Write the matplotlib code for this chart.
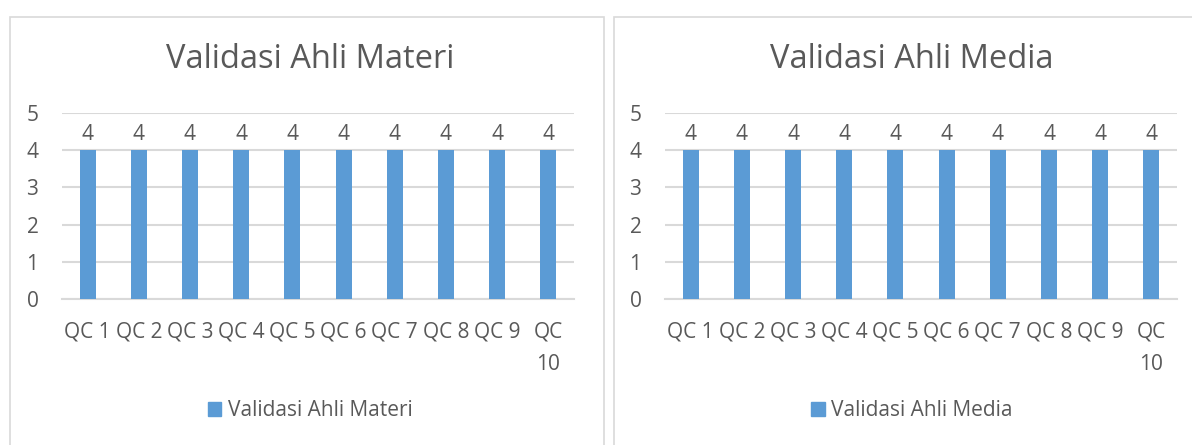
import matplotlib.pyplot as plt
from matplotlib.patches import Rectangle, Patch

categories = ["QC 1", "QC 2", "QC 3", "QC 4", "QC 5", "QC 6", "QC 7", "QC 8", "QC 9", "QC 10"]
materi = [4, 4, 4, 4, 4, 4, 4, 4, 4, 4]
media = [4, 4, 4, 4, 4, 4, 4, 4, 4, 4]
titles = ["Validasi Ahli Materi", "Validasi Ahli Media"]
yticks = [0, 1, 2, 3, 4, 5]

plt.rcParams['font.family'] = ['Open Sans', 'DejaVu Sans']
bar_color = '#5b9bd5'
text_color = '#595959'
grid_color = '#d9d9d9'

W, H = 1192, 445
fig = plt.figure(figsize=(W / 100, H / 100), dpi=100)

# labels that Excel wraps
labels = [c if len(c) <= 4 else c.replace(' ', '\n') for c in categories]

def px(x0, y0, x1, y1):
    return [x0 / W, 1 - y1 / H, (x1 - x0) / W, (y1 - y0) / H]

# chart borders, plot area left edge, chart centre
charts = [(10, 604, 62, 310), (614, 1208, 665, 912)]

for vals, title, (bx0, bx1, x0, cx) in zip([materi, media], titles, charts):
    fig.patches.append(Rectangle((bx0 / W, -0.1), (bx1 - bx0) / W, 1.1 - 17 / H,
                                 transform=fig.transFigure, fill=False,
                                 edgecolor=grid_color, linewidth=1.2))
    ax = fig.add_axes(px(x0, 113, x0 + 512, 299))
    bars = ax.bar(range(len(categories)), vals, width=0.31, color=bar_color, zorder=3)
    ax.bar_label(bars, padding=4, fontsize=15, color=text_color)
    ax.set_xlim(-0.5, len(categories) - 0.5)
    ax.set_ylim(0, 5)
    ax.set_yticks(yticks)
    ax.set_xticks(range(len(categories)))
    ax.set_xticklabels(labels, linespacing=1.75)
    ax.yaxis.grid(True, color=grid_color, linewidth=1.5, zorder=0)
    for s in ['top', 'right', 'left']:
        ax.spines[s].set_visible(False)
    ax.spines['bottom'].set_color(grid_color)
    ax.spines['bottom'].set_linewidth(1.5)
    ax.tick_params(axis='both', length=0, labelsize=15, labelcolor=text_color)
    ax.tick_params(axis='y', pad=17)
    ax.tick_params(axis='x', pad=16)
    for lab in ax.get_xticklabels():
        lab.set_verticalalignment('top')
    fig.text(cx / W, 1 - 59 / H, title, fontsize=23.5, color=text_color,
             ha='center', va='center')
    fig.legend(handles=[Patch(color=bar_color, label=title)], loc='center',
               bbox_to_anchor=(cx / W, 1 - 411 / H), frameon=False, fontsize=15,
               labelcolor=text_color, handlelength=0.65, handleheight=0.65,
               handletextpad=0.3)

plt.savefig('out.png', dpi=100)
